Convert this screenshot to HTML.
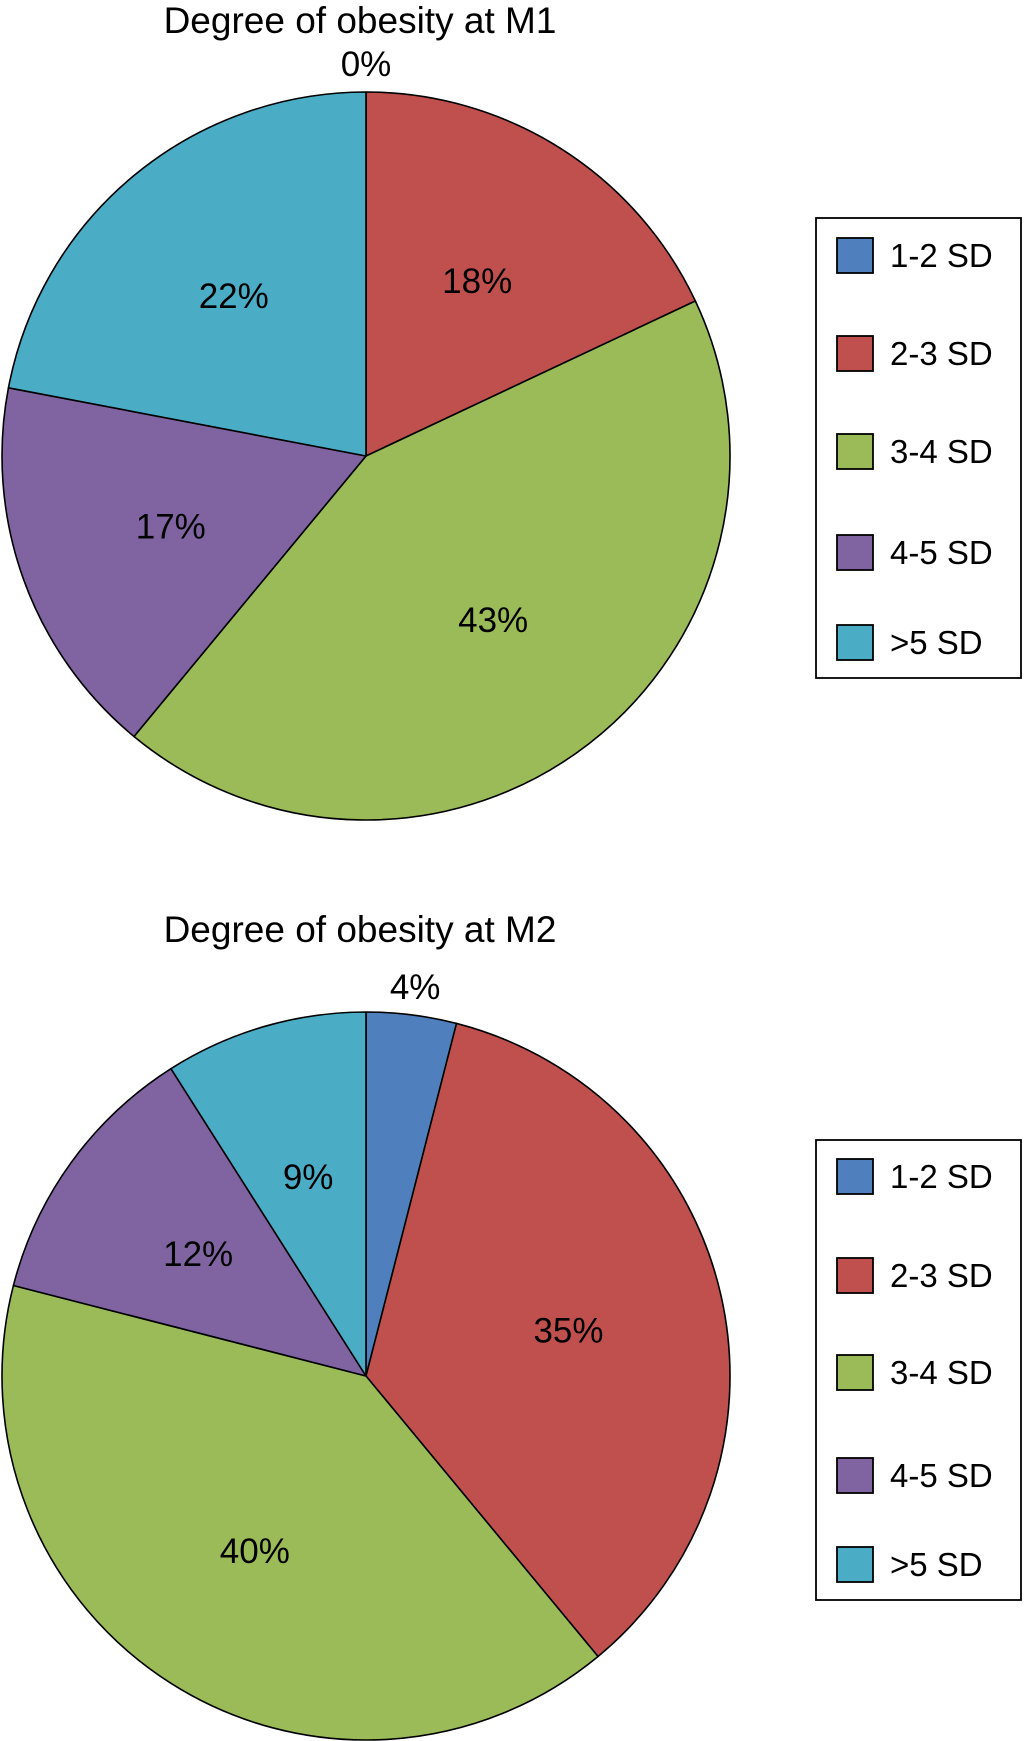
<!DOCTYPE html>
<html>
<head>
<meta charset="utf-8">
<style>
  html, body { margin: 0; padding: 0; background: #ffffff; }
  svg { display: block; }
  text { font-family: "Liberation Sans", Arial, sans-serif; fill: #000; }
</style>
</head>
<body>
<svg id="chart" width="1024" height="1741" viewBox="0 0 1024 1741" xmlns="http://www.w3.org/2000/svg"></svg>
<script>
const categories = ["1-2 SD", "2-3 SD", "3-4 SD", "4-5 SD", ">5 SD"];
const colors = ["#4f7fbd", "#c0504d", "#9bbb59", "#8064a2", "#4bacc6"];
const valuesM1 = [0, 18, 43, 17, 22];
const valuesM2 = [4, 35, 40, 12, 9];
const titles = ["Degree of obesity at M1", "Degree of obesity at M2"];

const NS = "http://www.w3.org/2000/svg";
const svg = document.getElementById("chart");

function mk(tag, attrs, parent) {
  const el = document.createElementNS(NS, tag);
  for (const k in attrs) el.setAttribute(k, attrs[k]);
  (parent || svg).appendChild(el);
  return el;
}

function drawPie(values, title, cx, cy, r, titleY, legendTop, legendRows, key) {
  const g = mk("g", {});
  
  

  const t = mk("text", {x: cx - 6, y: titleY, "font-size": 37, "text-anchor": "middle"}, g);
  t.textContent = title;
  
  

  const total = values.reduce((a, b) => a + b, 0);
  const angleOf = f => f * 2 * Math.PI;
  const pt = (a, rad) => [cx + rad * Math.sin(a), cy - rad * Math.cos(a)];
  let cum = 0;
  values.forEach((v, i) => {
    const a0 = angleOf(cum / total);
    cum += v;
    const a1 = angleOf(cum / total);
    if (v > 0) {
      const p0 = pt(a0, r), p1 = pt(a1, r);
      const large = (a1 - a0) > Math.PI ? 1 : 0;
      const path = mk("path", {
        d: `M${cx},${cy} L${p0[0]},${p0[1]} A${r},${r} 0 ${large} 1 ${p1[0]},${p1[1]} Z`,
        fill: colors[i], stroke: "#000", "stroke-width": 1.6, "stroke-linejoin": "round"
      }, g);
      
      
    }
    const mid = (a0 + a1) / 2;
    const pct = v / total * 100;
    const lr = pct < 5 ? r + 28 : r * 0.57;
    const lp = pt(mid, lr);
    const lab = mk("text", {x: lp[0], y: lp[1] + 12, "font-size": 35, "text-anchor": "middle"}, g);
    lab.textContent = Math.round(pct) + "%";
    
    
  });

  const lg = mk("g", {}, g);
  
  
  const box = mk("rect", {x: 816, y: legendTop, width: 205, height: legendRows[4] - legendTop + 36, fill: "#fff", stroke: "#000", "stroke-width": 1.8}, lg);
  
  
  categories.forEach((c, i) => {
    const y = legendRows[i];
    const sw = mk("rect", {x: 837, y: y - 17, width: 36, height: 35, fill: colors[i], stroke: "#000", "stroke-width": 1.8}, lg);
    
    
    const tx = mk("text", {x: 890, y: y + 12, "font-size": 33}, lg);
    tx.textContent = c;
    
    
  });
}

drawPie(valuesM1, titles[0], 366, 456, 364, 33, 218, [255, 353, 451, 552, 642], "m1");
drawPie(valuesM2, titles[1], 366, 1376, 364, 942, 1140, [1176, 1275, 1372, 1475, 1564], "m2");
</script>
</body>
</html>
